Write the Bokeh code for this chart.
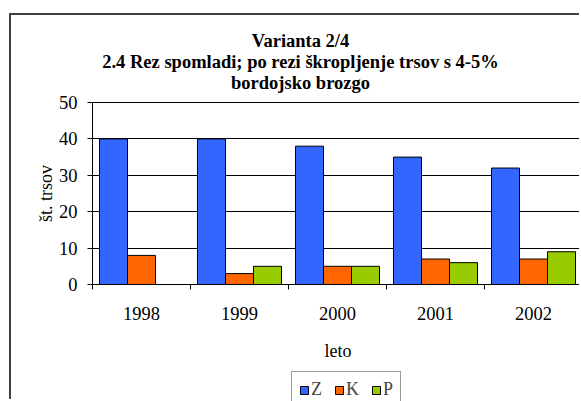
from bokeh.plotting import figure
from bokeh.models import Range1d, FixedTicker, Label, ColumnDataSource
from bokeh.transform import dodge
from bokeh.embed import file_html
from bokeh.resources import INLINE

# ---- data ----
years = ["1998", "1999", "2000", "2001", "2002"]
z_vals = [40, 40, 38, 35, 32]
k_vals = [8, 3, 5, 7, 7]
p_vals = [0, 5, 5, 6, 9]
series_names = ["Z", "K", "P"]
colors = ["#3366FF", "#FF6600", "#99CC00"]
y_ticks = [0, 10, 20, 30, 40, 50]
title_lines = ["Varianta 2/4",
               "2.4 Rez spomladi; po rezi škropljenje trsov s 4-5%",
               "bordojsko brozgo"]
x_label = "leto"
y_label = "št. trsov"

# ---- layout constants (page pixels) ----
FONT = "'Liberation Serif', serif"
FS_TITLE = "18.5px"
FS_TICK = "18.5px"
FS_LABEL = "18px"
FS_LEGEND = "18px"
CANVAS_X0, CANVAS_Y0 = 11, 15
W, H = 570, 386
AX_X0 = 92       # page x of x = 0
CAT_PX = 98      # pixels per category
AX_Y0 = 284      # page y of y = 0
Y_PX = 3.64      # pixels per unit


def dx(px):
    return (px - AX_X0) / CAT_PX


def dy(py):
    return (AX_Y0 - py) / Y_PX


xc = [i + 0.5 for i in range(len(years))]
src = ColumnDataSource(dict(xc=xc, Z=z_vals, K=k_vals, P=p_vals))

p = figure(width=W, height=H, output_backend="svg", toolbar_location=None,
           x_range=Range1d(dx(CANVAS_X0), dx(CANVAS_X0 + W)),
           y_range=Range1d(dy(CANVAS_Y0 + H), dy(CANVAS_Y0)),
           min_border=0)
p.styles = {"margin-left": "9px", "margin-top": "13px",
            "border-top": "2px solid #404040", "border-left": "2px solid #404040"}
p.outline_line_color = None
p.background_fill_color = "white"
p.border_fill_color = "white"

w = 1 / 3.5
for j, (name, col) in enumerate(zip(series_names, colors)):
    p.vbar(x=dodge("xc", (j - 1) * w, range=p.x_range), top=name, width=w,
           source=src, fill_color=col, line_color="black", line_width=1,
           legend_label=name)

# ---- grid ----
p.xgrid.visible = False
p.ygrid.grid_line_color = "black"
p.ygrid.grid_line_width = 1
p.ygrid.bounds = (0, 50)
p.ygrid.cross_bounds = (0, len(years))

# ---- axes ----
p.yaxis.ticker = FixedTicker(ticks=y_ticks)
p.xaxis.ticker = FixedTicker(ticks=xc, minor_ticks=list(range(len(years) + 1)))
p.xaxis.major_label_overrides = {x: y for x, y in zip(xc, years)}
p.xaxis.fixed_location = 0
p.yaxis.fixed_location = 0
p.xaxis.bounds = (0, len(years))
p.yaxis.bounds = (0, 50)
for ax in (p.xaxis, p.yaxis):
    ax.axis_line_color = "black"
    ax.major_label_text_font = FONT
    ax.major_label_text_font_size = FS_TICK
    ax.major_label_text_color = "black"
    ax.major_tick_line_color = "black"
    ax.minor_tick_line_color = "black"
p.xaxis.major_tick_out = 0
p.xaxis.major_tick_in = 0
p.xaxis.minor_tick_out = 5
p.xaxis.minor_tick_in = 0
p.xaxis.major_label_standoff = 17
p.yaxis.major_tick_out = 5
p.yaxis.major_tick_in = 0
p.yaxis.minor_tick_out = 0
p.yaxis.minor_tick_in = 0
p.yaxis.major_label_standoff = 10

# ---- texts ----
title_base = [40, 61, 82]
for txt, by in zip(title_lines, title_base):
    p.add_layout(Label(x=dx(300), y=dy(by), text=txt, text_align="center",
                       text_baseline="alphabetic", text_font=FONT,
                       text_font_size=FS_TITLE, text_font_style="bold",
                       text_color="black"))
p.add_layout(Label(x=dx(337.5), y=dy(350), text=x_label, text_align="center",
                   text_baseline="alphabetic", text_font=FONT,
                   text_font_size=FS_LABEL, text_color="black"))
p.add_layout(Label(x=dx(45), y=dy(193), text=y_label, text_align="center",
                   text_baseline="alphabetic", angle=1.5707963, text_font=FONT,
                   text_font_size=FS_LABEL, text_color="black"))

# ---- legend ----
lg = p.legend[0]
lg.orientation = "horizontal"
lg.location = (293 - CANVAS_X0 - 2, -7)
lg.border_line_color = "#333333"
lg.border_line_width = 1
lg.padding = 7
lg.margin = 0
lg.glyph_width = 10
lg.glyph_height = 10
lg.label_width = 0
lg.label_height = 10
lg.label_standoff = 2
lg.spacing = 12
lg.label_text_font = FONT
lg.label_text_font_size = FS_LEGEND
lg.background_fill_alpha = 1
lg.background_fill_color = "white"

open("out.html", "w").write(file_html(p, INLINE))
